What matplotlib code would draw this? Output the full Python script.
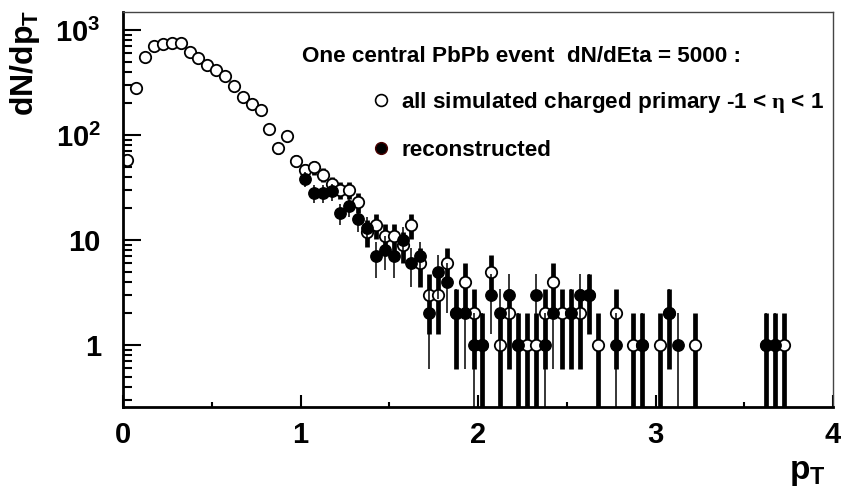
import numpy as np
import matplotlib.pyplot as plt
from matplotlib.ticker import LogLocator, NullFormatter

plt.rcParams['font.family'] = 'Liberation Sans'
plt.rcParams['font.weight'] = 'bold'
plt.rcParams['mathtext.fontset'] = 'custom'
plt.rcParams['mathtext.bf'] = 'Liberation Sans:bold'
plt.rcParams['mathtext.rm'] = 'Liberation Serif'

# histogram bins of 0.05 in pT, 0 .. 3.75
pt_edges = np.linspace(0, 3.75, 76)
pt_centers = 0.5 * (pt_edges[:-1] + pt_edges[1:])

# counts per bin
sim_counts = [58, 283, 550, 708, 736, 752, 757, 613, 537, 464,
              416, 365, 291, 230, 196, 173, 113, 75, 97, 57,
              46, 49, 42, 34, 30, 30, 23, 12, 14, 11,
              11, 9, 14, 6, 3, 3, 6, 2, 4, 2,
              1, 5, 1, 2, 1, 1, 1, 2, 4, 2,
              2, 2, 3, 1, 0, 2, 0, 1, 1, 0,
              1, 2, 0, 0, 1, 0, 0, 0, 0, 0,
              0, 0, 1, 1, 1]
reco_counts = [0, 0, 0, 0, 0, 0, 0, 0, 0, 0,
               0, 0, 0, 0, 0, 0, 0, 0, 0, 0,
               38, 28, 28, 29, 18, 21, 16, 13, 7, 8,
               7, 10, 6, 7, 2, 5, 4, 2, 2, 1,
               1, 3, 2, 3, 1, 0, 3, 1, 2, 0,
               2, 3, 3, 0, 0, 1, 0, 0, 1, 0,
               0, 2, 1, 0, 0, 0, 0, 0, 0, 0,
               0, 0, 1, 1, 0]

header = 'One central PbPb event  dN/dEta = 5000 :'
sim_label = r'all simulated charged primary -1 < $\mathrm{\eta}$ < 1'
reco_label = 'reconstructed'

W, H = 841, 500
fig = plt.figure(figsize=(W / 100, H / 100), dpi=100)
ax = fig.add_axes([123 / W, 1 - 406.7 / H, 710 / W, 395.2 / H])

sim = np.array(sim_counts, dtype=float)
reco = np.array(reco_counts, dtype=float)
ms = sim > 0
mr = reco > 0

ax.errorbar(pt_centers[ms], sim[ms], yerr=np.sqrt(sim[ms]), fmt='o', ms=8.2,
            mfc='white', mec='black', mew=1.3, ecolor='black', elinewidth=3.4,
            capsize=0, zorder=2)
ax.errorbar(pt_centers[mr], reco[mr], yerr=np.sqrt(reco[mr]), fmt='o', ms=8.2,
            mfc='black', mec='black', mew=1.0, ecolor='black', elinewidth=1.1,
            capsize=0, zorder=3)

ax.set_yscale('log', nonpositive='clip')
ax.set_xlim(0, 4)
ax.set_ylim(0.258, 1500)

ax.set_xticks([0, 1, 2, 3, 4])
ax.set_xticklabels(['0', '1', '2', '3', '4'])
ax.set_xticks([0.5, 1.5, 2.5, 3.5], minor=True)
ax.set_yticks([1, 10, 100, 1000])
ax.set_yticklabels(['1', '10', r'$\mathbf{10^{2}}$', r'$\mathbf{10^{3}}$'])
ax.yaxis.set_minor_locator(LogLocator(base=10, subs=np.arange(2, 10)))
ax.yaxis.set_minor_formatter(NullFormatter())

ax.tick_params(axis='both', which='both', direction='in', top=False, right=False,
               width=1.5, labelsize=21)
ax.tick_params(axis='y', which='major', length=13, pad=16)
ax.tick_params(axis='y', which='minor', length=6.5)
ax.tick_params(axis='x', which='major', length=8.5, pad=10)
ax.tick_params(axis='x', which='minor', length=3.6)

for s in ['left', 'bottom']:
    ax.spines[s].set_linewidth(2.0)
for s in ['top', 'right']:
    ax.spines[s].set_linewidth(1.0)
    ax.spines[s].set_color('#444444')

# legend
h_sim = plt.Line2D([], [], ls='none', marker='o', ms=8.5, mfc='white', mec='black', mew=1.2)
h_reco = plt.Line2D([], [], ls='none', marker='o', ms=8.5, mfc='black', mec='#4a0000')
ax.legend([h_sim, h_reco], [sim_label, reco_label], loc='upper left',
          bbox_to_anchor=(374 / W, 1 - 90 / H), bbox_transform=fig.transFigure,
          frameon=False, fontsize=16.2, handlelength=0.6, handletextpad=0.62,
          labelspacing=1.1, borderpad=0, borderaxespad=0)
fig.text(302 / W, 1 - 57 / H, header, fontsize=16.2, va='center', ha='left')

# axis titles
fig.text(25 / W, 1 - 10 / H, r'dN/dp$_\mathbf{T}$', rotation=90, ha='center',
         va='top', fontsize=23)
fig.text(826 / W, 1 - 472 / H, r'p$_\mathbf{T}$', ha='right', va='center', fontsize=24)

fig.savefig('out.png', dpi=100)
